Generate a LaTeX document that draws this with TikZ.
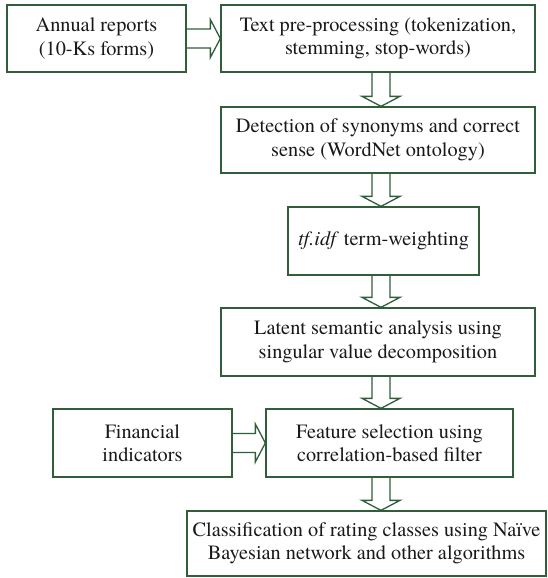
\documentclass[tikz,border=0pt]{standalone}
\usepackage{fontspec}
\setmainfont{texgyretermes}[Extension=.otf, UprightFont=*-regular, ItalicFont=*-italic, BoldFont=*-bold]
\usetikzlibrary{calc}
\definecolor{bordergreen}{RGB}{48,94,58}
\tikzset{
  box/.style={draw=bordergreen, line width=1.3pt, inner sep=0pt, align=center,
    font=\fontsize{20.3}{23.5}\selectfont, text=black!90},
  blk/.style={draw=bordergreen, line width=1.3pt, line join=miter}
}
\newcommand\vblk[2]{%
  \draw[blk] let \p1=(#1), \p2=(#2) in
    (\x1-9pt,\y1) -- (\x1-9pt,\y2+10pt) -- (\x1-19pt,\y2+10pt) -- (\x2,\y2)
    -- (\x1+19pt,\y2+10pt) -- (\x1+9pt,\y2+10pt) -- (\x1+9pt,\y1);}
\newcommand\hblk[2]{%
  \draw[blk] let \p1=(#1), \p2=(#2) in
    (\x1,\y1+9.5pt) -- (\x2-10pt,\y1+9.5pt) -- (\x2-10pt,\y1+19pt) -- (\x2,\y2)
    -- (\x2-10pt,\y1-19pt) -- (\x2-10pt,\y1-9.5pt) -- (\x1,\y1-9.5pt);}
\begin{document}
\begin{tikzpicture}[x=1pt,y=-1pt]
\useasboundingbox (0,0) rectangle (548,578);
\node[box, minimum width=179pt, minimum height=67pt] (A) at (96.5,38.5) {Annual reports\\(10-Ks forms)};
\node[box, minimum width=314pt, minimum height=67pt] (B) at (378,38.5) {Text pre-processing (tokenization,\\stemming, stop-words)};
\node[box, minimum width=314pt, minimum height=66pt] (C) at (378,140) {Detection of synonyms and correct\\sense (WordNet ontology)};
\node[box, minimum width=191pt, minimum height=68pt] (D) at (383.5,241) {\textit{tf.idf} term-weighting};
\node[box, minimum width=314pt, minimum height=68pt] (E) at (378,342) {Latent semantic analysis using\\singular value decomposition};
\node[box, minimum width=179pt, minimum height=68pt] (G) at (142.5,443) {Financial\\indicators};
\node[box, minimum width=247pt, minimum height=68pt] (F) at (389.5,443) {Feature selection using\\correlation-based filter};
\node[box, minimum width=359pt, minimum height=65pt] (H) at (366.5,543.5) {Classification of rating classes using Na\"ive\\Bayesian network and other algorithms};
\coordinate (ax) at (381,0);
\vblk{B.south -| ax}{C.north -| ax}
\vblk{C.south -| ax}{D.north -| ax}
\vblk{D.south -| ax}{E.north -| ax}
\vblk{E.south -| ax}{F.north -| ax}
\vblk{F.south -| ax}{H.north -| ax}
\hblk{A.east}{B.west |- A.east}
\hblk{G.east}{F.west}
\end{tikzpicture}
\end{document}
